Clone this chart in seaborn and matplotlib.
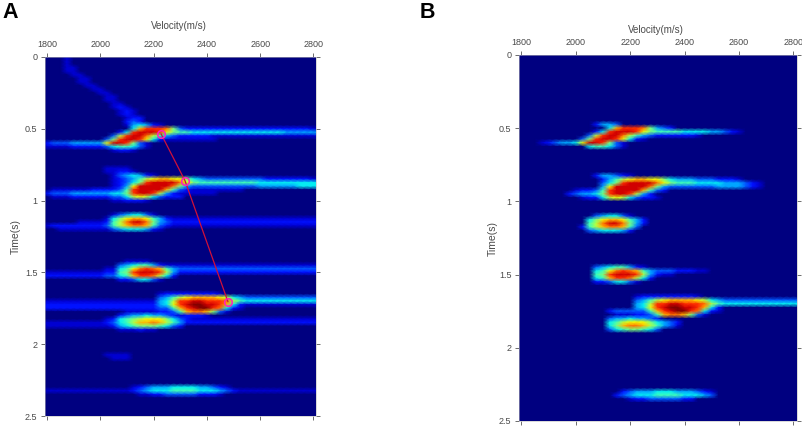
"""
Velocity spectra, panels A and B, drawn as seaborn heatmaps.
Each row below is one time sample, one hex digit per velocity column (0 = background, f = peak).
"""

import numpy as np
import matplotlib
matplotlib.use("Agg")
import matplotlib.pyplot as plt
import seaborn as sns

V_START = 1775
V_STEP = 25
T_STEP = 0.025
N_V = 43
N_T = 101

VELOCITY_TICKS = [1800, 2000, 2200, 2400, 2600, 2800]
TIME_TICKS = [0, 0.5, 1, 1.5, 2, 2.5]
TIME_LABELS = ["0", "0.5", "1", "1.5", "2", "2.5"]

PICK_VELOCITY = [2228, 2318, 2479]
PICK_TIME = [0.535, 0.862, 1.704]

ROWS_A = {
    0.000: "0001210",
    0.025: "0001210",
    0.050: "0001210",
    0.075: "0001220",
    0.100: "0000221",
    0.125: "00001221",
    0.150: "000011221",
    0.175: "000001221",
    0.200: "0000011221",
    0.225: "00000011221",
    0.250: "000000011221",
    0.275: "0000000011221",
    0.300: "00000000112210",
    0.325: "000000000112210",
    0.350: "000000000012321",
    0.375: "0000000000012321",
    0.400: "00000000000123210",
    0.425: "000000000000123310",
    0.450: "00000000000013431",
    0.475: "00000000000002565321",
    0.500: "000000000000006bdddc84333333333333333333322",
    0.525: "00000000000036deeeda87766666666666666555555",
    0.550: "000000000004" "9deec" "975" "43" "333322222222222222222",
    0.575: "00000000004" "8" "deed" "a6" "32" "22222221111111111111111",
    0.600: "1344455555" "a" "ee" "d" "8" "4" "2" "11111111111111111111111111",
    0.625: "1222233333" "4" "6776" "42" "1111111111111111111111111111",
    0.650: "0000000000" "1233211",
    0.700: "0000000000011111100",
    0.750: "000000000011111000",
    0.775: "000000000122221",
    0.800: "00000000012233210",
    0.825: "000000000" "112" "4565" "32" "1111111",
    0.850: "00000000011" "2345" "79abbaa" "8" "6" "5444444444333333322",
    0.875: "00000000001" "23" "46" "8" "deeee" "c" "a" "8" "7" "777777776" "666666666",
    0.900: "00000000001" "23" "5" "a" "eeeee" "c" "8" "5" "4" "444444444" "555555" "6666",
    0.925: "0122222233334" "7" "d" "eeee" "b" "7" "4" "3" "22222222" "111111111111",
    0.950: "1344455555566" "8" "d" "ee" "d" "9" "5" "3" "222222" "1111111111111111",
    0.975: "0122233333344" "6" "9" "a" "9" "6" "4" "3" "33" "111111111111111111111",
    1.000: "0000011111122" "3332",
    1.050: "0000001111110000000000",
    1.075: "00000000000000000000" "11111111111111111111111",
    1.100: "00000000000" "2" "4566" "42" "1111111111111111111111111",
    1.125: "0011111111" "2" "6" "8" "abba" "7" "5" "3" "22222222222222222222222",
    1.150: "0111112222" "3" "7" "9" "ceec" "8" "5" "4" "3" "3333333333333333333333",
    1.175: "1233333333" "4" "7" "9" "bccb" "7" "4" "3" "22222222222222222222222",
    1.200: "0112222222" "2" "4" "5" "6665" "3" "2" "111111111111111111111111",
    1.225: "0000000001111111000",
    1.400: "00000111111110",
    1.425: "0000000000" "1112222" "00000" "11111111111111111111",
    1.450: "00000000000" "1" "4" "56775" "3" "2" "22222222222222222222222",
    1.475: "0001111111" "22" "6" "7" "a" "cdc" "b" "7" "5" "4" "444444444444444444444",
    1.500: "1222222222" "33" "7" "8" "d" "eee" "d" "9" "5" "3" "333333333333333333333",
    1.525: "1333333333" "44" "6" "7" "b" "ddc" "9" "6" "3" "1111111111111111111111",
    1.550: "0111111111" "11" "3" "3" "4" "664" "2",
    1.625: "0000000000000000001111111",
    1.650: "000000000000000000" "2333333332" "111111111111111",
    1.675: "0111111111" "11111111" "4" "5" "7" "9abbbba" "9" "6" "5" "444444444444",
    1.700: "1222222222" "22222222" "5" "6" "9" "ddeeddd" "c" "9" "7" "666666666666",
    1.725: "2333333333" "33333333" "5" "6" "a" "deffeed" "b" "6" "3" "222222222222",
    1.750: "2333333333" "33333333" "4" "4" "7" "b" "deffd" "c" "6" "3" "2" "111111111111",
    1.775: "1111111111" "11122222" "3" "3" "4" "7" "bccb" "8" "4" "2" "11111111111111",
    1.800: "0111111111" "11" "3" "4" "5" "5" "6" "5" "5" "4" "3" "2" "3" "3" "3" "2" "11111111111111111",
    1.825: "0111111111" "2" "3" "6" "7" "8" "9" "a" "a" "a" "8" "6" "4" "3" "22222222222222222222",
    1.850: "1222222222" "3" "4" "6" "7" "9" "b" "b" "c" "b" "9" "7" "5" "3" "33333333333333333333",
    1.875: "1222222222" "2" "3" "5" "6" "7" "8" "8" "8" "7" "6" "4" "3" "111111111111111111111",
    1.900: "00000000000" "1222322" "1111",
    2.075: "000000000" "1222211",
    2.100: "000000000" "1122211",
    2.275: "0000000000000" "11111111111111",
    2.300: "0111111111" "1111" "2" "3455566665543" "2" "11111111111111",
    2.325: "1222222222" "2222" "3" "45666777766654" "3" "2222222222222",
    2.350: "0111111111" "1111" "1" "2233444443332" "111111111111111",
    2.450: "0011111100000",
}

ROWS_B = {
    0.475: "000000000000" "3554",
    0.500: "00000000000000" "6bdddc8" "54" "3",
    0.525: "000000000000" "36" "deeed" "a" "8" "7777666655432",
    0.550: "00000000000" "4" "9deec" "975" "43" "33333" "2",
    0.575: "0000000000" "4" "8" "deed" "a6" "32",
    0.600: "0000" "2" "3" "4" "5" "5" "6" "a" "ee" "d" "8" "4" "2",
    0.625: "00000000000" "6" "776" "4" "2",
    0.825: "000000000000" "3554" "32",
    0.850: "0000000000000" "35" "79abbaa" "8" "6" "5554443332",
    0.875: "0000000000000" "46" "8" "deeee" "c" "a" "8" "7" "776666555432",
    0.900: "0000000000000" "5" "a" "eeeee" "c" "8" "5" "4" "4444445555432",
    0.925: "00000000" "1" "2" "3" "3" "4" "7" "d" "eeee" "b" "7" "4" "3",
    0.950: "00000000" "3" "4" "5" "5" "6" "8" "d" "ee" "d" "9" "5" "3",
    0.975: "000000000" "1233" "6" "9" "a" "9" "6" "4" "3" "3" "2",
    1.100: "000000000000" "4566" "42",
    1.125: "00000000000" "6" "8" "abba" "7" "5" "3",
    1.150: "00000000000" "7" "9" "ceec" "8" "5" "3",
    1.175: "0000000000" "3" "7" "9" "bccb" "7" "4",
    1.200: "00000000000" "4" "5" "6665" "3",
    1.450: "000000000000" "4" "56775" "3" "2",
    1.475: "000000000000" "6" "7" "a" "cdc" "b" "7" "5" "4" "4433322",
    1.500: "000000000000" "7" "8" "d" "eee" "d" "9" "5" "3" "22",
    1.525: "000000000000" "6" "7" "b" "ddc" "9" "6" "3",
    1.550: "000000000000" "3" "3" "4" "664" "2",
    1.650: "000000000000000000" "2333333332",
    1.675: "000000000000000000" "4" "5" "7" "9abbbba" "9" "6" "5" "444444444444",
    1.700: "000000000000000000" "5" "6" "9" "ddeeddd" "c" "9" "7" "666666666666",
    1.725: "000000000000000000" "56adeffeedb63",
    1.750: "00000000000000" "3444" "4" "4" "7" "b" "deffd" "c" "6" "3" "2",
    1.775: "00000000000000" "1222" "3" "3" "4" "7" "bccb" "8" "4" "2",
    1.800: "00000000000000" "4556554" "3",
    1.825: "00000000000000" "6" "7" "9" "a" "a" "a" "8" "6" "5" "4" "3",
    1.850: "00000000000000" "6" "8" "b" "c" "c" "b" "9" "7" "5" "4" "2",
    1.875: "00000000000000" "4" "6" "7" "8" "8" "7" "6" "4",
    2.300: "0000000000000000" "345556665554" "32",
    2.325: "000000000000000" "3" "456667777666" "54",
    2.350: "00000000000000000" "2334444433",
}

TEXT_GREY = "#4a4a4a"


def rows_to_matrix(rows):
    """Turn the sparse hex rows into a time by velocity matrix"""
    matrix = np.zeros((N_T, N_V))
    for t, row in rows.items():
        row = row.ljust(N_V, "0")[:N_V]
        matrix[round(t / T_STEP)] = [int(ch, 16) for ch in row]
    return matrix


def v_pos(v):
    return (np.asarray(v, dtype=float) - V_START) / V_STEP


def t_pos(t):
    return np.asarray(t, dtype=float) / T_STEP


def draw_panel(fig, rows, box_px, v_range, t_bottom=2.5):
    """Draw one spectrum; box_px is left, top, right, bottom in pixels"""
    left, top, right, bottom = box_px
    ax = fig.add_axes([left / 803, 1 - bottom / 428, (right - left) / 803, (bottom - top) / 428])

    sns.heatmap(rows_to_matrix(rows), ax=ax, cmap="jet", vmin=1, vmax=15,
                cbar=False, shading="gouraud", xticklabels=False, yticklabels=False)

    ax.set_xlim(v_pos(v_range[0]), v_pos(v_range[1]))
    ax.set_ylim(t_pos(t_bottom), 0)
    ax.set_xticks(v_pos(VELOCITY_TICKS))
    ax.set_xticklabels(VELOCITY_TICKS)
    ax.set_yticks(t_pos(TIME_TICKS))
    ax.set_yticklabels(TIME_LABELS, rotation=0)

    ax.tick_params(axis="both", which="major", length=3, width=0.6, color="#555555",
                   labelsize=6.5, labelcolor=TEXT_GREY, pad=2.5,
                   top=True, bottom=True, left=True, right=True,
                   labeltop=True, labelbottom=False)
    for spine in ax.spines.values():
        spine.set_visible(True)
        spine.set_linewidth(0.4)
        spine.set_color("#bbbbbb")
    return ax


def main():
    sns.set_theme(style="white")
    plt.rcParams["font.family"] = ["Liberation Sans", "DejaVu Sans"]

    fig = plt.figure(figsize=(8.03, 4.28), dpi=100)

    ax_a = draw_panel(fig, ROWS_A, (45, 57, 316, 416), (1792.5, 2809.5))
    ax_b = draw_panel(fig, ROWS_B, (519, 55, 797, 421), (1791, 2813.5))

    # Picked velocities on panel A
    ax_a.plot(v_pos(PICK_VELOCITY), t_pos(PICK_TIME), color="#d0103a", linewidth=0.9,
              marker="o", markersize=5.5, markerfacecolor="none",
              markeredgecolor="#ff20c0", markeredgewidth=1.1)

    fig.text(179 / 803, 1 - 26 / 428, "Velocity(m/s)", fontsize=7, color=TEXT_GREY, ha="center", va="center")
    fig.text(656 / 803, 1 - 30 / 428, "Velocity(m/s)", fontsize=7, color=TEXT_GREY, ha="center", va="center")
    fig.text(16 / 803, 1 - 237 / 428, "Time(s)", fontsize=7.5, color=TEXT_GREY, rotation=90, ha="center", va="center")
    fig.text(493 / 803, 1 - 238 / 428, "Time(s)", fontsize=7.5, color=TEXT_GREY, rotation=90, ha="center", va="center")

    fig.text(2 / 803, 1 - 18 / 428, "A", fontsize=15.5, fontweight="bold", color="black", ha="left", va="baseline")
    fig.text(420 / 803, 1 - 18 / 428, "B", fontsize=15.5, fontweight="bold", color="black", ha="left", va="baseline")

    fig.savefig("out.png", dpi=100)
    plt.close(fig)


if __name__ == "__main__":
    main()
